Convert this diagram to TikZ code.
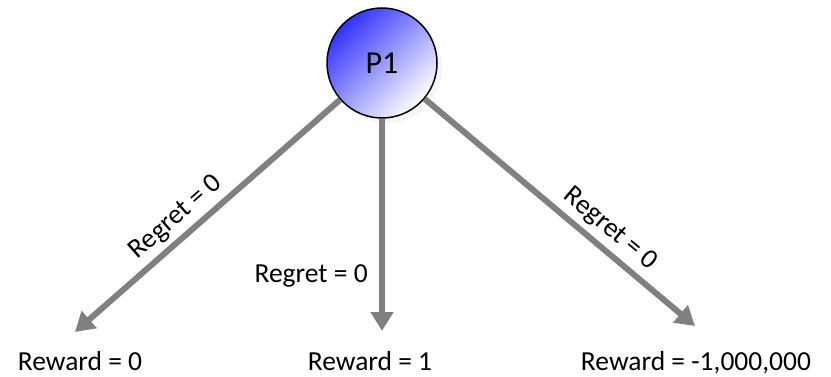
\documentclass[tikz,border=0pt]{standalone}
\usepackage{fontspec}
\setmainfont{Carlito}
\usepackage{tikz}
\usetikzlibrary{arrows.meta}
\usetikzlibrary{positioning}
\usetikzlibrary{math}
\usetikzlibrary{shadows}
\definecolor{edgegray}{RGB}{128,128,128}
\definecolor{playerblue}{RGB}{50,50,255}
\tikzstyle{player} = [circle, minimum size=110pt, inner sep=0pt, draw=black, line width=1.5pt, top color=playerblue, bottom color=white, shading angle=45, drop shadow={opacity=0.08, shadow xshift=5pt, shadow yshift=-5pt}, font=\fontsize{32}{38}\selectfont]
\tikzstyle{arrow} = [-{Triangle[length=19pt, width=22pt]}, line width=6pt, draw=edgegray]
\tikzstyle{reward} = [anchor=base, inner sep=0pt, font=\fontsize{27.5}{33}\selectfont]
\tikzstyle{regret} = [font=\fontsize{27.5}{33}\selectfont]

\begin{document}
\begin{tikzpicture}[x=1pt, y=-1pt]

  \useasboundingbox (0,0) rectangle (831,377);
  \tikzmath{\yrew = 370;}

  % player
  \node[player] (P1) at (382,63) {P1};

  % arrow ends
  \coordinate (endL) at (75,332);
  \coordinate (endM) at (382,331);
  \coordinate (endR) at (695,326);

  \draw[arrow] (P1) -- node[regret, sloped, above=2pt, pos=0.57] {Regret = 0} (endL);
  \draw[arrow] (P1) -- node[regret, left=8pt, pos=0.74] {Regret = 0} (endM);
  \draw[arrow] (P1) -- node[regret, sloped, above=2pt, pos=0.64] {Regret = 0} (endR);

  % rewards
  \node[reward] (rewL) at (80,\yrew) {Reward = 0};
  \node[reward] (rewM) at (370,\yrew) {Reward = 1};
  \node[reward] (rewR) at (696,\yrew) {Reward = -1,000,000};

\end{tikzpicture}
\end{document}
